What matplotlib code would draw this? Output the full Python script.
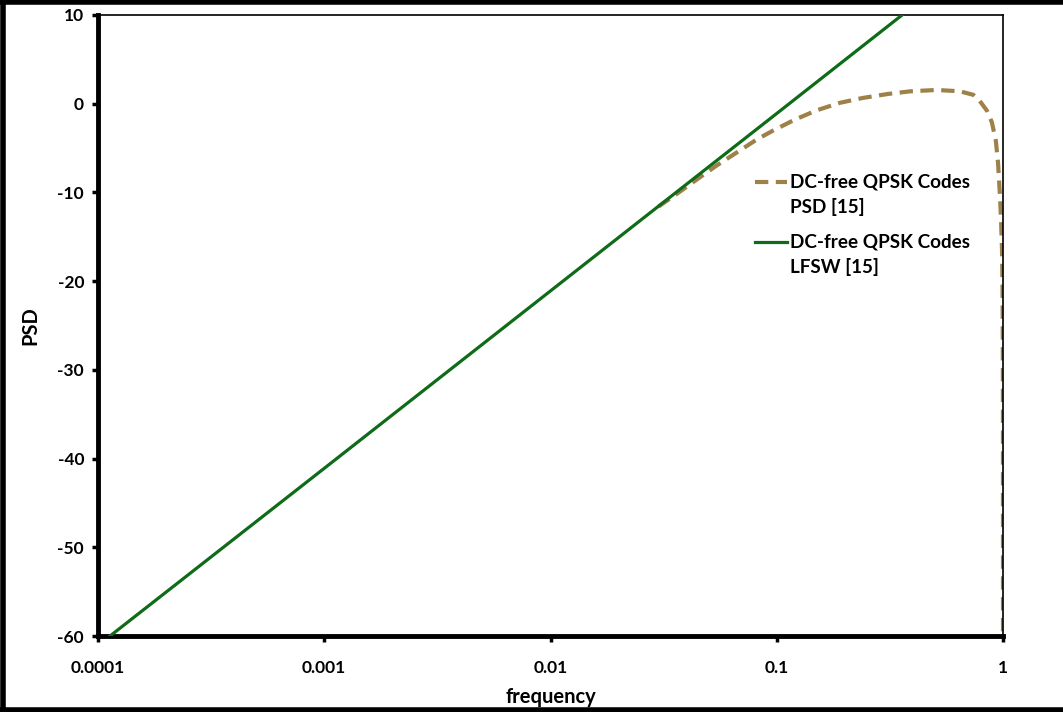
import matplotlib
matplotlib.use("Agg")
import matplotlib.pyplot as plt
from matplotlib.lines import Line2D

plt.rcParams['font.family'] = ['Lato', 'DejaVu Sans']
plt.rcParams['axes.unicode_minus'] = False

# LFSW line (straight on log axis)
lfsw_f = [0.000113, 0.001, 0.01, 0.1, 0.375]
lfsw_db = [-60.0, -41.1, -21.1, -1.1, 10.4]

# PSD curve (dashed)
psd_f = [0.03, 0.036, 0.044, 0.054, 0.067, 0.082, 0.096, 0.12, 0.15, 0.19,
         0.24, 0.31, 0.39, 0.51, 0.645, 0.74, 0.79, 0.85, 0.893, 0.93, 0.951,
         0.97, 0.98, 0.99, 0.995, 0.998, 0.9995, 0.99995, 1.0]
psd_db = [-11.6, -10.2, -8.6, -7.0, -5.45, -4.0, -3.05, -1.8, -0.75, 0.1,
          0.65, 1.1, 1.4, 1.55, 1.4, 1.0, 0.3, -0.8, -2.1, -4.2, -6.7,
          -10.5, -13.0, -16.5, -20.5, -27.0, -35.0, -48.0, -60.0]

xticks = [0.0001, 0.001, 0.01, 0.1, 1]
xticklabels = ['0.0001', '0.001', '0.01', '0.1', '1']
yticks = [-60, -50, -40, -30, -20, -10, 0, 10]

psd_label = ['DC-free QPSK Codes', 'PSD [15]']
lfsw_label = ['DC-free QPSK Codes', 'LFSW [15]']

W, H = 1063, 712
fig = plt.figure(figsize=(W / 100, H / 100), dpi=100)
ax = fig.add_axes([98 / W, 1 - 636 / H, (1003 - 98) / W, (636 - 15) / H])

tan = '#9e8148'
green = '#0e6b18'
dash = (0, (3.2, 1.8))
ax.plot(psd_f, psd_db, color=tan, lw=3.0, ls=dash, zorder=2)
ax.plot(lfsw_f, lfsw_db, color=green, lw=2.3, zorder=3)

ax.set_xscale('log')
ax.set_xlim(0.0001, 1)
ax.set_ylim(-60, 10)
ax.set_xticks(xticks)
ax.set_xticklabels(xticklabels)
ax.minorticks_off()
ax.set_yticks(yticks)

for lab in ax.get_xticklabels() + ax.get_yticklabels():
    lab.set_fontweight('bold')
    lab.set_fontsize(12.5)

ax.tick_params(axis='both', direction='out', length=4, width=2.5, color='black')
ax.tick_params(axis='x', pad=13)
ax.tick_params(axis='y', pad=6)

ax.spines['left'].set_linewidth(3.5)
ax.spines['bottom'].set_linewidth(3.5)
ax.spines['top'].set_linewidth(1.2)
ax.spines['right'].set_linewidth(1.2)

ax.set_xlabel('frequency', fontsize=14.5, fontweight='bold', labelpad=8.5)
ax.set_ylabel('PSD', fontsize=14.5, fontweight='bold', labelpad=12)

# manual legend (handle aligned with first text line)
tf = fig.transFigure
for (y0, color, ls, lw, lines) in [(182, tan, dash, 3.0, psd_label),
                                    (242, green, '-', 2.3, lfsw_label)]:
    fig.add_artist(Line2D([755 / W, 787 / W], [1 - y0 / H, 1 - y0 / H],
                          transform=tf, color=color, ls=ls, lw=lw))
    for i, t in enumerate(lines):
        fig.text(790 / W, 1 - (y0 + 25.5 * i) / H, t, fontsize=13.6,
                 fontweight='bold', ha='left', va='center')

# outer frame (left, top, bottom)
fig.add_artist(Line2D([2.5 / W, 2.5 / W], [0, 1], transform=tf, color='black', lw=4))
fig.add_artist(Line2D([0, 1], [1 - 2 / H, 1 - 2 / H], transform=tf, color='black', lw=4))
fig.add_artist(Line2D([0, 1], [2 / H, 2 / H], transform=tf, color='black', lw=4))

fig.savefig('out.png', dpi=100)
